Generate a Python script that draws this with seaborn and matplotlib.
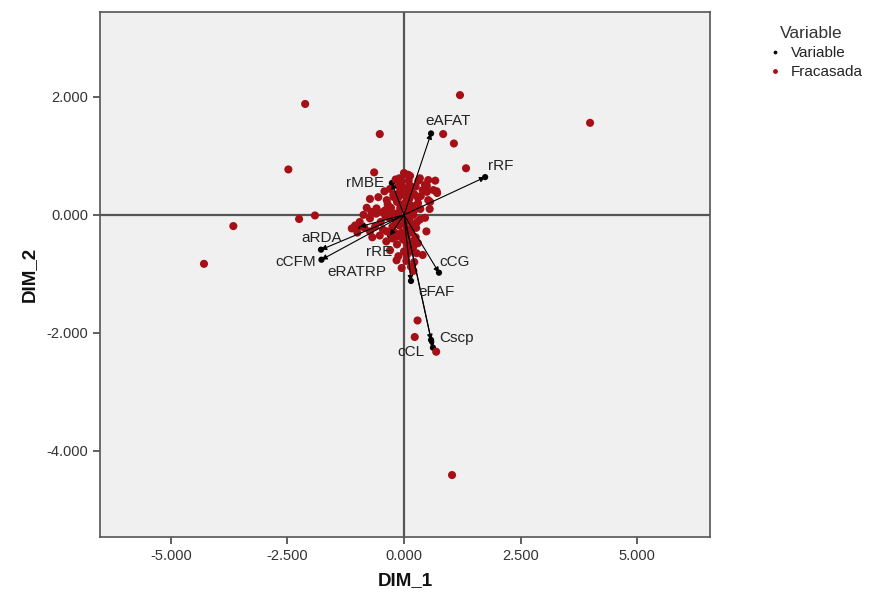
import matplotlib
matplotlib.use("Agg")
import matplotlib.pyplot as plt
import seaborn as sns
import pandas as pd
from matplotlib.ticker import FormatStrFormatter, FixedLocator

# ---------------- data ----------------
# Fracasada (cases) – DIM_1 / DIM_2 scores
fr_x = [1.20, -2.12, 3.99, -0.52, 0.84, 1.07, -2.48, 1.33, -1.91, -2.25, -3.66, -4.29,
        1.03, -0.16, 0.29, 0.23, 0.69,
        0.00, 0.13, 0.31, 0.52, 0.67, 0.49, 0.70, 0.52, -0.30, -0.12, -0.23, -0.37,
        -0.73, -0.59, -0.64, -0.87, -0.73, -1.12, -0.73, -0.37, -0.16, 0.06, 0.20,
        0.27, 0.40, 0.16, 0.34, 0.06,
        0.02, 0.09, 0.34, 0.45, 0.63, 0.71, 0.49, 0.56, 0.30,
        -0.05, 0.05, -0.10, 0.02, 0.12, 0.22, 0.30, 0.18, -0.02, -0.15, -0.28, -0.45,
        -0.20, -0.08, 0.08, 0.20, 0.28, 0.12, -0.05, -0.18, -0.32, -0.50, -0.62, -0.45,
        -0.25, -0.10, 0.02, 0.15, 0.25, -0.05, 0.05, -0.15, 0.10, 0.00, 0.30, -0.25,
        -0.38, -0.85, -0.95, -1.00, -0.80, -0.55, -0.42, -0.18, 0.10, 0.40, 0.35, 0.45,
        0.10, -0.35, -0.12, 0.05, 0.22, 0.48, 0.55, -0.68, -0.30, 0.15, -0.60, -0.22,
        0.25, -0.40, 0.08, -0.02, 0.18,
        -0.08, 0.04, 0.14, -0.20, -0.30, -0.12, 0.00, 0.10, 0.22, -0.40, -0.52, -0.05,
        0.06, 0.18, -0.15, -0.02, 0.12, 0.26, -0.28, 0.36, -0.70, -1.05, 0.20, -0.10]
fr_y = [2.03, 1.88, 1.56, 1.37, 1.37, 1.21, 0.77, 0.79, -0.01, -0.07, -0.19, -0.83,
        -4.41, -0.77, -1.79, -2.07, -2.32,
        0.71, 0.66, 0.58, 0.59, 0.58, 0.49, 0.40, 0.25, 0.44, 0.49, 0.34, 0.25,
        0.27, 0.11, 0.72, 0.00, -0.06, -0.23, -0.28, -0.28, -0.37, -0.48, -0.54,
        -0.65, -0.68, -0.62, -0.08, -0.25,
        0.69, 0.68, 0.62, 0.51, 0.42, 0.37, 0.39, 0.22, 0.29,
        0.55, 0.45, 0.38, 0.33, 0.28, 0.35, 0.20, 0.15, 0.18, 0.22, 0.12, 0.05,
        0.02, 0.08, 0.05, 0.00, -0.12, -0.10, -0.05, -0.12, -0.05, -0.12, -0.20, -0.25,
        -0.20, -0.18, -0.15, -0.30, -0.38, -0.30, -0.38, -0.50, -0.55, -0.62, -0.48, -0.40,
        -0.45, -0.22, -0.12, -0.30, 0.12, 0.30, 0.40, 0.60, 0.58, 0.42, 0.10, -0.05,
        0.20, 0.18, -0.70, -0.78, -0.80, -0.28, 0.10, -0.38, -0.60, -0.88, 0.02, 0.30,
        0.48, -0.02, 0.12, -0.42, -0.20,
        0.12, 0.22, 0.40, -0.30, -0.30, 0.30, -0.40, -0.05, 0.08, 0.08, -0.35, -0.90,
        -0.68, -0.45, 0.02, 0.42, 0.50, -0.22, 0.00, 0.32, 0.05, -0.18, -0.95, 0.62]

# Variables (loadings) – arrow end points
var_names = ["eAFAT", "rRF", "rMBE", "aRDA", "cCFM", "eRATRP", "rRE",
             "cCG", "eFAF", "Cscp", "cCL"]
var_x = [0.58, 1.74, -0.26, -1.78, -1.77, -0.95, -0.30, 0.75, 0.15, 0.58, 0.62]
var_y = [1.38, 0.64, 0.54, -0.59, -0.76, -0.20, -0.35, -0.98, -1.12, -2.12, -2.25]

x_ticks = [-5.0, -2.5, 0.0, 2.5, 5.0]
y_ticks = [-4.0, -2.0, 0.0, 2.0]

# ---------------- styles ----------------
label_offsets = {  # pixel offsets of the variable labels
    "eAFAT": (17, 12), "rRF": (16, 11), "rMBE": (-27, 0), "aRDA": (1, 12),
    "cCFM": (-26, -2), "eRATRP": (-3, -45), "rRE": (-11, -16), "cCG": (16, 11),
    "eFAF": (25, -11), "Cscp": (25, 2), "cCL": (-22, -4),
}
RED = "#A50F15"

sns.set_theme(style="white")
plt.rcParams["font.family"] = ["Liberation Sans", "DejaVu Sans"]

fig = plt.figure(figsize=(8.77, 5.96), dpi=100)
ax = fig.add_axes([0.114, 0.099, 0.696, 0.881])
ax.set_facecolor("#F0F0F0")

df_fr = pd.DataFrame({"DIM_1": fr_x, "DIM_2": fr_y, "grp": "Fracasada"})
df_var = pd.DataFrame({"DIM_1": var_x, "DIM_2": var_y, "grp": "Variable"})

ax.axhline(0, color="#555555", lw=1.6, zorder=1)
ax.axvline(0, color="#555555", lw=1.6, zorder=1)

pal = {"Variable": "black", "Fracasada": RED}
sns.scatterplot(data=df_var, x="DIM_1", y="DIM_2", hue="grp", palette=pal,
                s=20, linewidth=0, ax=ax, zorder=2)
sns.scatterplot(data=df_fr, x="DIM_1", y="DIM_2", hue="grp", palette=pal,
                s=34, linewidth=0, ax=ax, zorder=3)

for name, vx, vy in zip(var_names, var_x, var_y):
    ax.annotate("", xy=(vx, vy), xytext=(0, 0),
                arrowprops=dict(arrowstyle="-|>", color="black", lw=0.8,
                                mutation_scale=8, shrinkA=0, shrinkB=0),
                zorder=4)
    dx, dy = label_offsets[name]
    ax.annotate(name, xy=(vx, vy), xytext=(dx, dy), textcoords="offset pixels",
                ha="center", va="center", fontsize=11, color="#222222", zorder=5)

ax.set_xlim(-6.52, 6.57)
ax.set_ylim(-5.46, 3.44)
ax.xaxis.set_major_locator(FixedLocator(x_ticks))
ax.yaxis.set_major_locator(FixedLocator(y_ticks))
ax.xaxis.set_major_formatter(FormatStrFormatter("%.3f"))
ax.yaxis.set_major_formatter(FormatStrFormatter("%.3f"))
ax.tick_params(axis="both", direction="out", length=5, width=1.2, color="#444444",
               labelsize=10.5, labelcolor="#333333", bottom=True, left=True)
for sp in ax.spines.values():
    sp.set_color("#555555")
    sp.set_linewidth(1.2)

ax.set_xlabel("DIM_1", fontsize=13.5, fontweight="bold", color="#111111", labelpad=7)
ax.set_ylabel("DIM_2", fontsize=13.5, fontweight="bold", color="#111111", labelpad=6)

handles, labels = ax.get_legend_handles_labels()
leg = ax.legend(handles, labels, title="Variable", loc="upper left",
                bbox_to_anchor=(0.866, 0.957),
                bbox_transform=fig.transFigure, frameon=False, fontsize=11,
                title_fontsize=12.5, handletextpad=0.05, labelspacing=0.35,
                markerscale=0.6, borderaxespad=0, borderpad=0)
leg.get_title().set_color("#333333")
for t in leg.get_texts():
    t.set_color("#222222")

fig.savefig("out.png", dpi=100)
